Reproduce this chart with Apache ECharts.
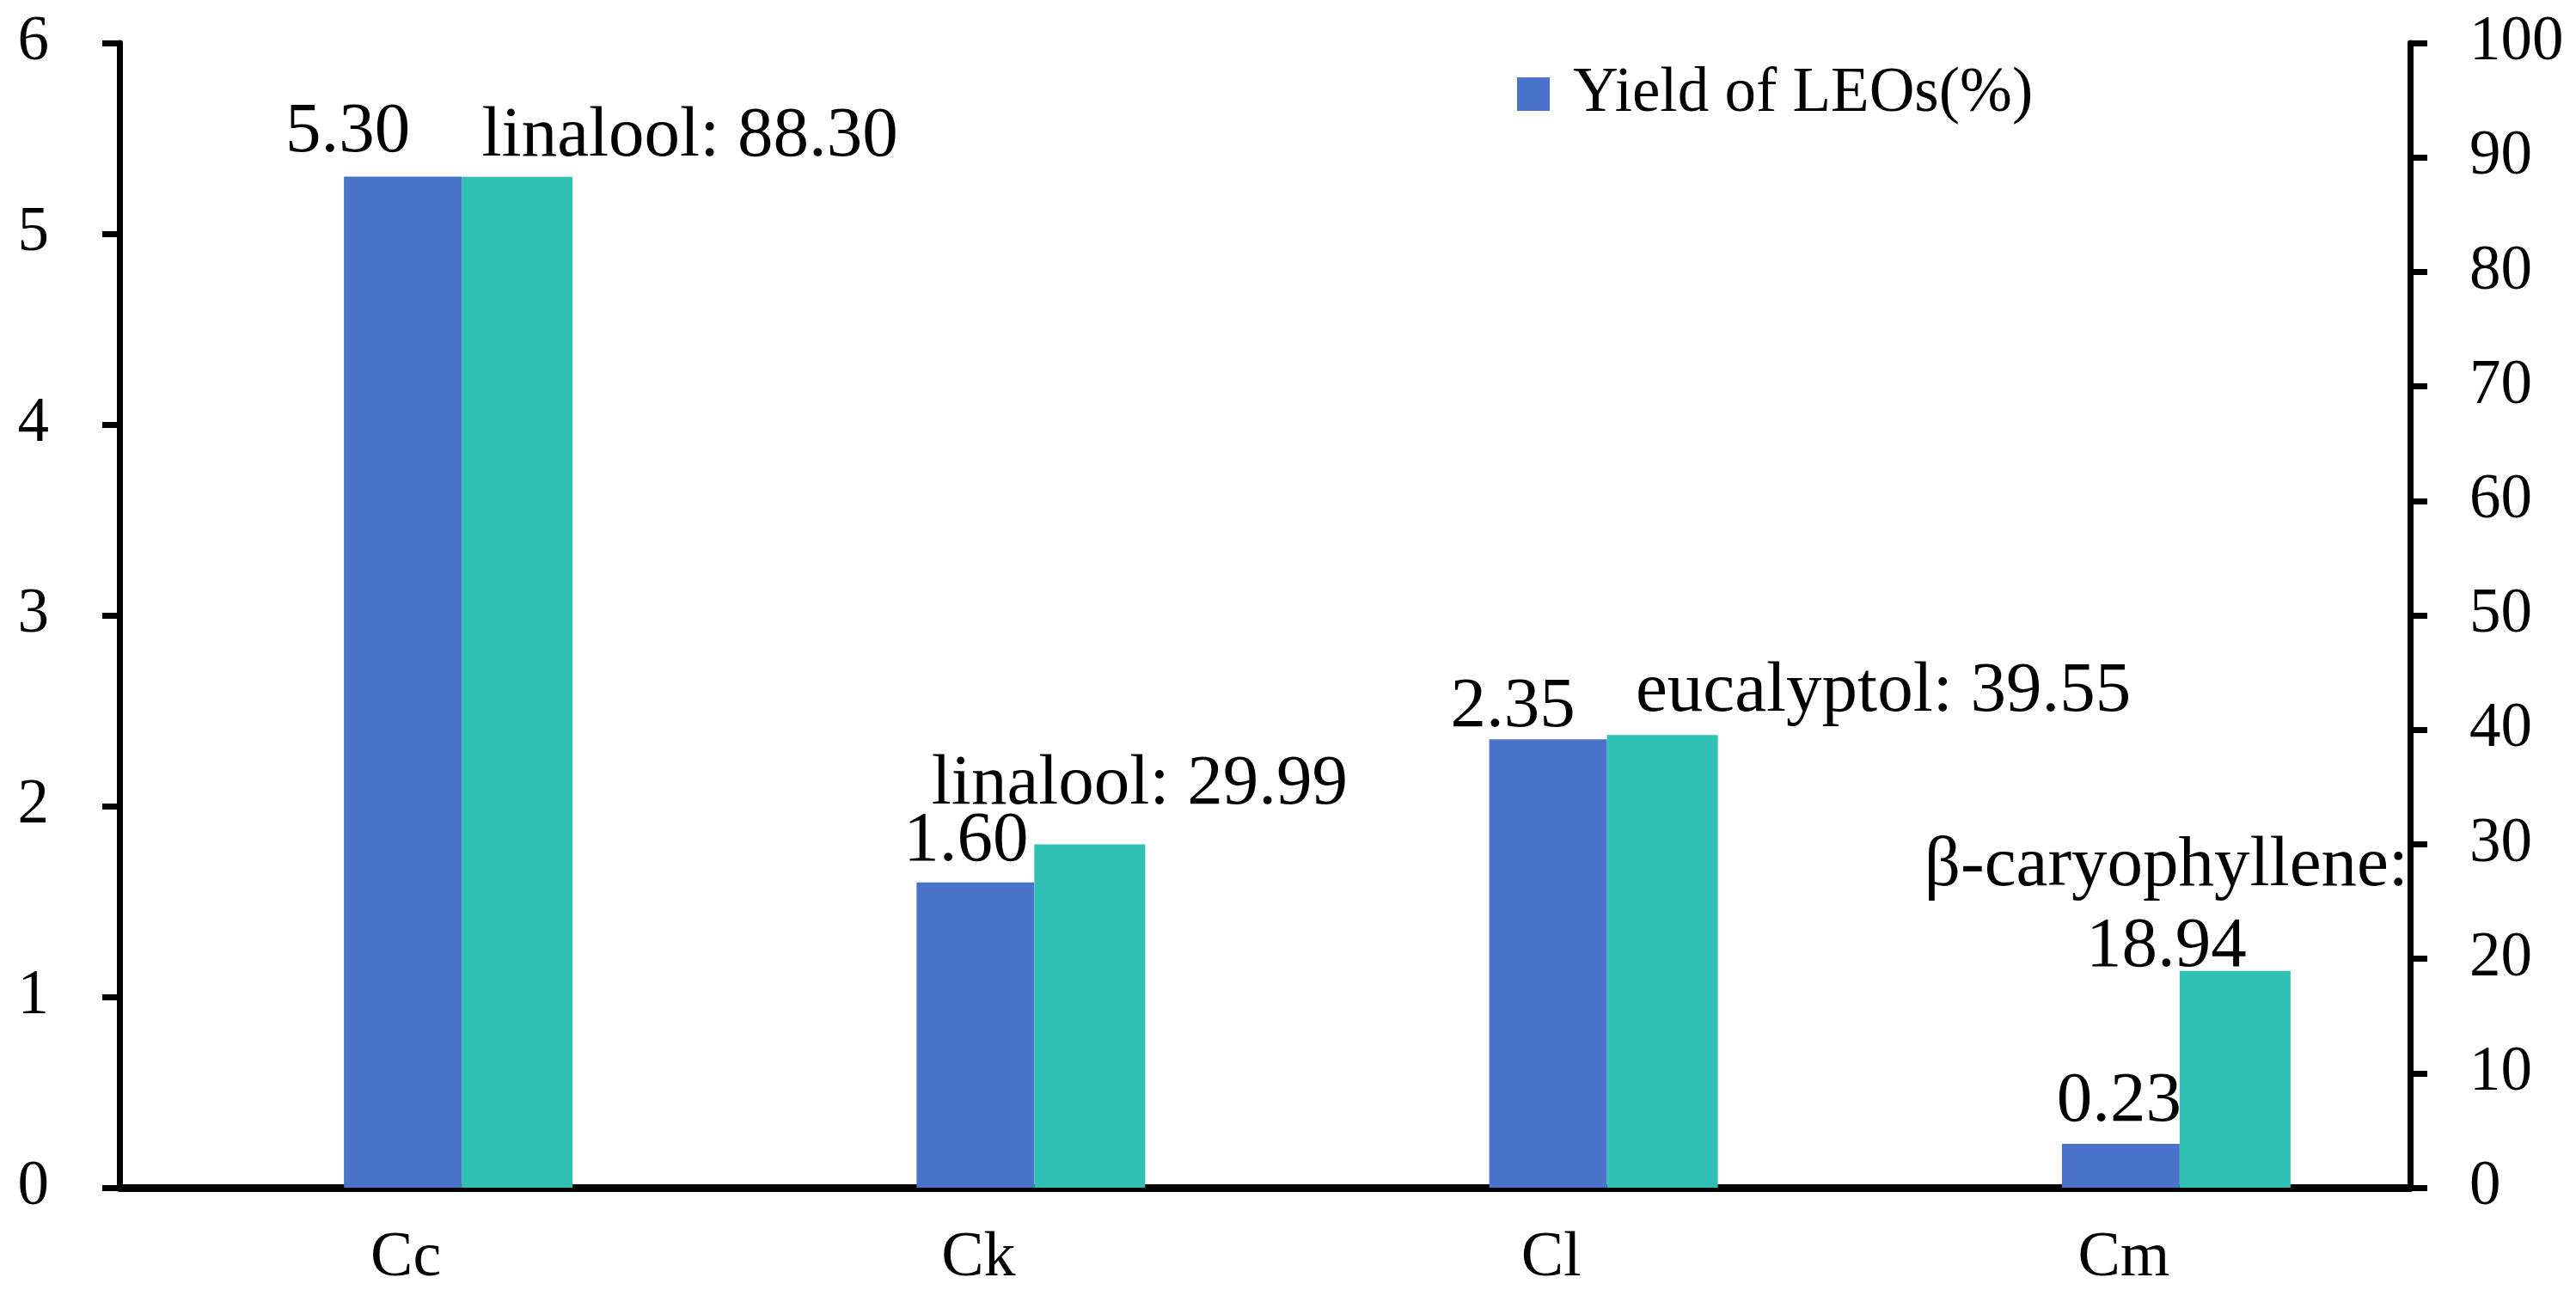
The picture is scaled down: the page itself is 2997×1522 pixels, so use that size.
<!DOCTYPE html>
<html>
<head>
<meta charset="utf-8">
<script src="https://cdn.jsdelivr.net/npm/echarts@6/dist/echarts.min.js"></script>
<style>
html,body{margin:0;padding:0;background:#fff;}
#chart{width:2997px;height:1522px;}
</style>
</head>
<body>
<div id="chart"></div>
<script>
// ---- data ----
const categories = ['Cc', 'Ck', 'Cl', 'Cm'];
const yieldValues = [5.30, 1.60, 2.35, 0.23];          // left axis, Yield of LEOs (%)
const compounds = ['linalool', 'linalool', 'eucalyptol', 'β-caryophyllene'];
const compoundValues = [88.30, 29.99, 39.55, 18.94];   // right axis, main component content (%)
const leftTicks = [0, 1, 2, 3, 4, 5, 6];
const rightTicks = [0, 10, 20, 30, 40, 50, 60, 70, 80, 90, 100];

// ---- label placement (style only) ----
const yieldLabelOffsets = [[-64, -4], [-11, -1], [-41, 10], [-2, -2]];
const compoundLabelOffsets = [[201, 0], [58, -22], [257, -3], [-80, 19]];

const FONT = "'Liberation Serif', 'Times New Roman', serif";
const BLUE = '#4A74C9';
const TEAL = '#31C1B4';

const chart = echarts.init(document.getElementById('chart'), null, {renderer: 'canvas'});

const baseLabel = {
  show: true,
  position: 'top',
  distance: 0,
  color: '#000',
  fontFamily: FONT,
  fontSize: 83,
  lineHeight: 94
};

const option = {
  animation: false,
  backgroundColor: '#fff',
  grid: {left: 139, right: 193, top: 50, bottom: 140, containLabel: false},
  legend: {
    data: ['Yield of LEOs(%)'],
    left: 1760,
    top: 68,
    selectedMode: false,
    icon: 'rect',
    itemWidth: 38,
    itemHeight: 39,
    textStyle: {fontFamily: FONT, fontSize: 73, color: '#000', padding: [0, 0, 0, 22]}
  },
  xAxis: {
    type: 'category',
    data: categories,
    axisLine: {show: true, lineStyle: {color: '#000', width: 9}},
    axisTick: {show: false},
    axisLabel: {fontFamily: FONT, fontSize: 74, color: '#000', margin: 46},
    splitLine: {show: false}
  },
  yAxis: [
    {
      type: 'value', min: leftTicks[0], max: leftTicks[leftTicks.length - 1], interval: 1,
      position: 'left',
      axisLine: {show: true, lineStyle: {color: '#000', width: 7}},
      axisTick: {show: true, inside: false, length: 20, lineStyle: {color: '#000', width: 7}},
      axisLabel: {fontFamily: FONT, fontSize: 73, color: '#000', margin: 82},
      splitLine: {show: false}
    },
    {
      type: 'value', min: rightTicks[0], max: rightTicks[rightTicks.length - 1], interval: 10,
      position: 'right',
      axisLine: {show: true, lineStyle: {color: '#000', width: 7}},
      axisTick: {show: true, inside: false, length: 20, lineStyle: {color: '#000', width: 7}},
      axisLabel: {fontFamily: FONT, fontSize: 73, color: '#000', margin: 69},
      splitLine: {show: false}
    }
  ],
  series: [
    {
      name: 'spacer',
      type: 'bar',
      yAxisIndex: 0,
      barWidth: 122,
      data: [],
      silent: true,
      itemStyle: {color: 'rgba(0,0,0,0)'}
    },
    {
      name: 'Yield of LEOs(%)',
      type: 'bar',
      yAxisIndex: 0,
      barWidth: 137,
      barGap: '0%',
      itemStyle: {color: BLUE},
      data: yieldValues.map((v, i) => ({
        value: v,
        label: Object.assign({}, baseLabel, {offset: yieldLabelOffsets[i]})
      })),
      label: Object.assign({}, baseLabel, {formatter: p => p.value.toFixed(2)})
    },
    {
      name: 'Main component(%)',
      type: 'bar',
      yAxisIndex: 1,
      barWidth: 129,
      barGap: '0%',
      itemStyle: {color: TEAL},
      data: compoundValues.map((v, i) => ({
        value: v,
        label: Object.assign({}, baseLabel, {offset: compoundLabelOffsets[i]})
      })),
      label: Object.assign({}, baseLabel, {
        formatter: p => {
          const name = compounds[p.dataIndex];
          const sep = name.length > 12 ? ':\n' : ': ';
          return name + sep + p.value.toFixed(2);
        }
      })
    }
  ]
};

chart.setOption(option);
</script>
</body>
</html>
